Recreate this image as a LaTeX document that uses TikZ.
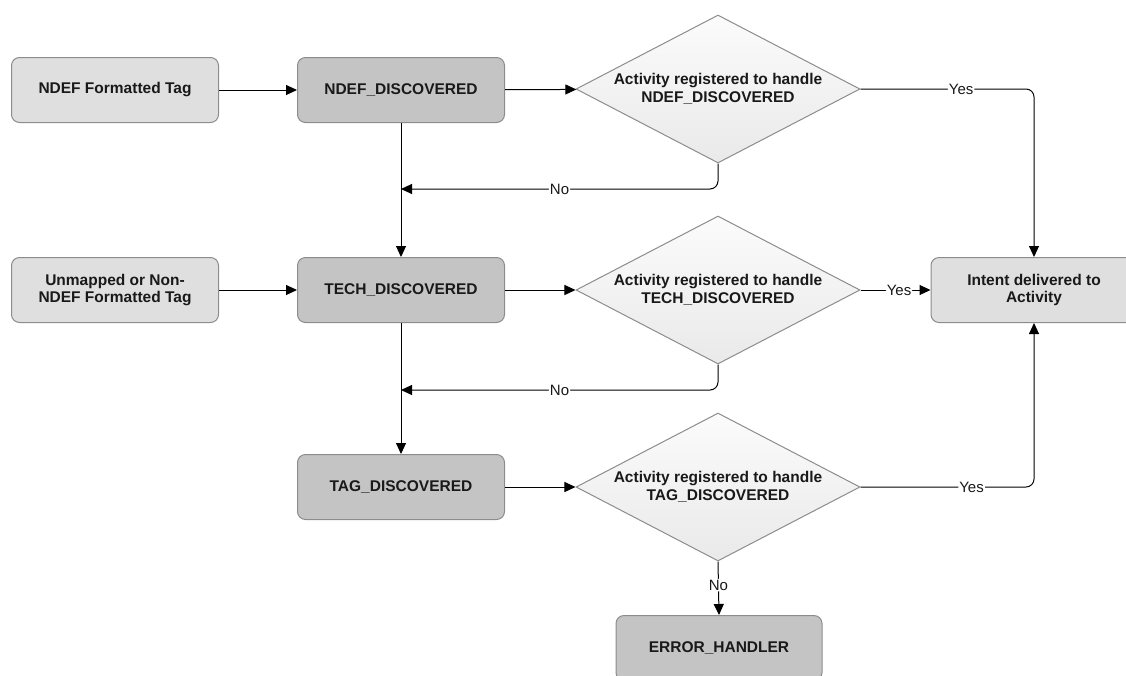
\documentclass[tikz,border=0pt]{standalone}
\usepackage{fontspec}
\setmainfont{Liberation Sans}
\usetikzlibrary{shapes.geometric,arrows.meta}
\definecolor{boxline}{HTML}{8C8C8C}
\definecolor{lightfill}{HTML}{DFDFDF}
\definecolor{darkfill}{HTML}{C4C4C4}
\begin{document}
\begin{tikzpicture}[x=1pt,y=-1pt]
          \tikzstyle{every node}=[font=\bfseries\fontsize{15.5}{17.5}\selectfont,text=black!90];
          \tikzstyle{tagbox}=[rectangle,rounded corners=8pt,draw=boxline,line width=1pt,fill=lightfill,minimum width=207,minimum height=65,align=center];
          \tikzstyle{discbox}=[tagbox,fill=darkfill];
          \tikzstyle{query}=[diamond,draw=boxline,line width=1pt,top color=gray!3,bottom color=gray!17,minimum width=284,minimum height=148,shape aspect=1.9,inner sep=0pt,align=center];
          \tikzstyle{flow}=[draw,line width=1pt,rounded corners=8pt,-{Triangle[length=11pt,width=10pt]}];
          \tikzstyle{answer}=[fill=white,inner sep=1pt,font=\fontsize{15}{15}\selectfont];
          \useasboundingbox (0,0) rectangle (1126,675);
          \clip (0,0) rectangle (1126,675);
          %\node (name) at (x,y) [style] {text};
          \node[tagbox] (ndeftag) at (115,90) {NDEF Formatted Tag};
          \node[discbox] (ndefdisc) at (401,90) {NDEF\_DISCOVERED};
          \node[query] (ndefq) at (718,89) {Activity registered to handle\\NDEF\_DISCOVERED};
          \node[tagbox] (techtag) at (115,290) {Unmapped or Non-\\NDEF Formatted Tag};
          \node[discbox] (techdisc) at (401,290) {TECH\_DISCOVERED};
          \node[query] (techq) at (718,290) {Activity registered to handle\\TECH\_DISCOVERED};
          \node[tagbox,minimum width=206] (intent) at (1034,290) {Intent delivered to\\Activity};
          \node[discbox] (tagdisc) at (401,487) {TAG\_DISCOVERED};
          \node[query] (tagq) at (718,487) {Activity registered to handle\\TAG\_DISCOVERED};
          \node[discbox,minimum width=206] (error) at (719,648) {ERROR\_HANDLER};
          \coordinate (ndefno) at (401,189);
          \coordinate (techno) at (401,390);
          %...;
          \draw[flow] (ndeftag)--(ndefdisc);
          \draw[flow] (ndefdisc)--(ndefq);
          \draw[flow] (ndefq.east) -| node[answer,pos=0.29] {Yes} (intent.north);
          \draw[flow] (ndefq.south) |- node[answer,pos=0.75] {No} (ndefno);
          \draw[flow] (ndefdisc)--(techdisc);
          \draw[flow] (techtag)--(techdisc);
          \draw[flow] (techdisc)--(techq);
          \draw[flow] (techq.east) -- node[answer,pos=0.55] {Yes} (intent.west);
          \draw[flow] (techq.south) |- node[answer,pos=0.75] {No} (techno);
          \draw[flow] (techdisc)--(tagdisc);
          \draw[flow] (tagdisc)--(tagq);
          \draw[flow] (tagq.east) -| node[answer,pos=0.32] {Yes} (intent.south);
          \draw[flow] (tagq.south) -- node[answer,pos=0.44] {No} (error.north);
      \end{tikzpicture}
\end{document}
